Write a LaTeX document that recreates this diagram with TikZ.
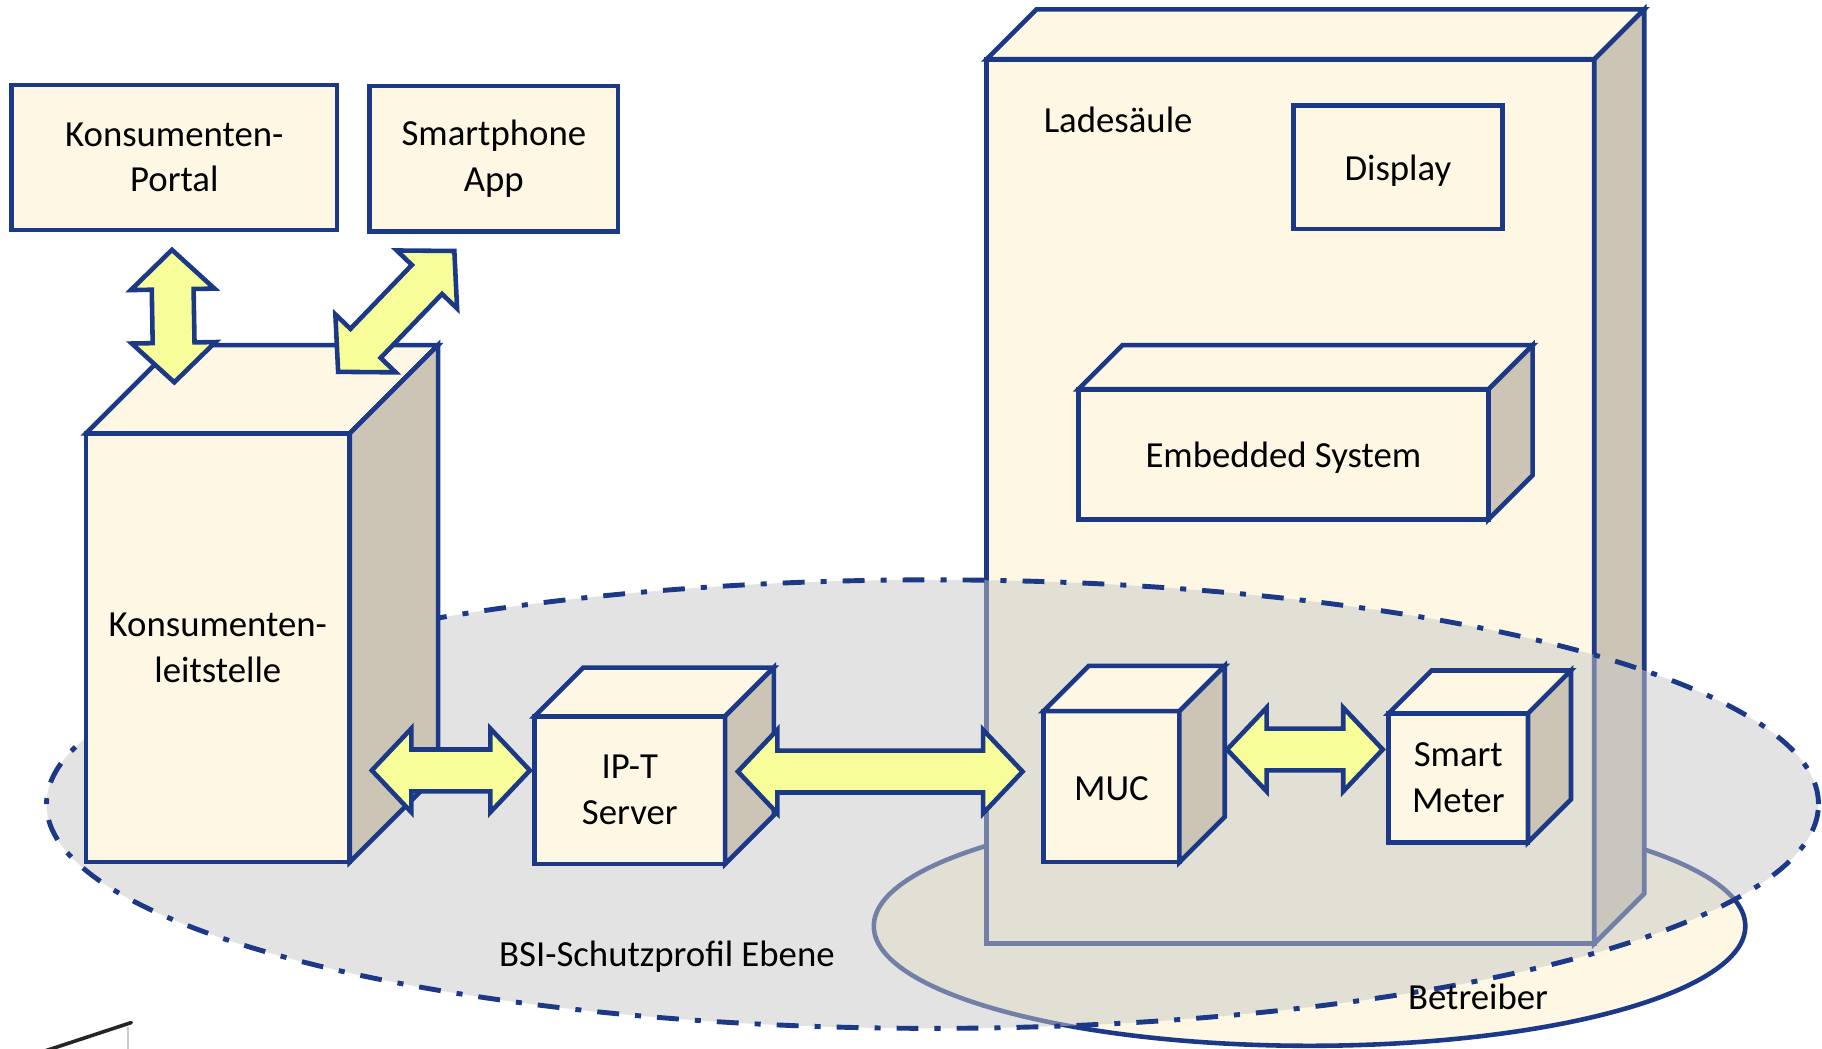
\documentclass[tikz,border=0pt]{standalone}
\usepackage{fontspec}
\setmainfont{Carlito}
\usetikzlibrary{calc,shapes.geometric}
\definecolor{bblue}{RGB}{28,57,135}
\definecolor{cream}{RGB}{253,247,227}
\definecolor{sidec}{RGB}{204,197,181}
\definecolor{ayel}{RGB}{246,253,153}
\definecolor{bsigray}{RGB}{200,200,200}
\newcommand\myu{0.025cm}
\tikzset{
 face/.style={draw=bblue, fill=cream, line width=2.8pt, line join=miter},
 box/.style={face, outer sep=0pt, inner sep=0pt, align=center, font=\fontsize{22.5}{28}\selectfont},
 sideface/.style={draw=bblue, fill=sidec, line width=2.8pt, line join=miter},
 blockarrow/.style={draw=bblue, fill=ayel, line width=2.8pt, line join=miter},
 lbl/.style={font=\fontsize{22.5}{28}\selectfont, inner sep=0pt},
 region/.style={ellipse, draw=bblue, line width=2.8pt, inner sep=0pt, outer sep=0pt}
}
\newcommand\cuboid[8][]{%
 \node[box, #1, minimum width=#5*\myu, minimum height=#6*\myu] (#2) at (#3,#4) {#8};
 \draw[face] (#2.north west) -- ++(#7,-#7) -- ++(#5,0) -- (#2.north east) -- cycle;
 \draw[sideface] (#2.north east) -- ++(#7,-#7) -- ++(0,#6) -- (#2.south east) -- cycle;
}
\newcommand\dblarrow[2]{%
 \coordinate (p1) at ($(#1)!0.85cm!(#2)$);
 \coordinate (p2) at ($(#2)!0.85cm!(#1)$);
 \draw[blockarrow] (#1) -- ($(p1)!0.9cm!90:(#2)$) -- ($(p1)!0.45cm!90:(#2)$)
   -- ($(p2)!0.45cm!90:(#2)$) -- ($(p2)!0.9cm!90:(#2)$) -- (#2)
   -- ($(p2)!0.9cm!-90:(#2)$) -- ($(p2)!0.45cm!-90:(#2)$)
   -- ($(p1)!0.45cm!-90:(#2)$) -- ($(p1)!0.9cm!-90:(#2)$) -- cycle;
}
\begin{document}
\begin{tikzpicture}[x=0.025cm, y=-0.025cm]
\useasboundingbox (0,0) rectangle (1568,902);
% Betreiber region
\node[region, fill=cream, minimum width=750*\myu, minimum height=206*\myu] (betr) at (1127,797) {};
% Ladesaeule
\cuboid{lade}{1110.5}{431.5}{523}{761}{43}{}
\node[lbl, anchor=base west] (ladel) at (898,114) {Ladesäule};
\node[box, minimum width=180*\myu, minimum height=106*\myu, text depth=0pt] (disp) at (1203,144) {Display};
\cuboid[text depth=0pt]{emb}{1104.5}{391}{353}{112}{38}{Embedded System}
% BSI region
\node[region, fill=bsigray, fill opacity=0.5, line width=3pt,
  dash pattern=on 13.4pt off 9.8pt on 3.7pt off 9.8pt,
  minimum width=1525*\myu, minimum height=386*\myu] (bsi) at (802.5,692) {};
% top boxes
\node[box, minimum width=280*\myu, minimum height=125*\myu] (portal) at (150,135.5) {Konsumenten-\\Portal};
\node[box, minimum width=214*\myu, minimum height=125*\myu] (app) at (425,136.5) {Smartphone\\App};
% cuboids
\cuboid{kl}{187.5}{557.5}{227}{369}{76}{Konsumenten-\\leitstelle}
\cuboid{ipt}{542}{680}{164}{127}{42}{IP-T\\Server}
\cuboid[text height=17.5pt, text depth=0pt]{muc}{956.5}{677}{117}{130}{39}{MUC}
\cuboid{sm}{1255}{669.5}{120}{111}{37}{Smart\\Meter}
% arrows
\coordinate (a1s) at (148,215); \coordinate (a1e) at (150,329);
\dblarrow{a1s}{a1e}
\coordinate (a2s) at (291,320); \coordinate (a2e) at (391,216);
\dblarrow{a2s}{a2e}
\coordinate (a3s) at (320,663); \coordinate (a3e) at (456,663);
\dblarrow{a3s}{a3e}
\coordinate (a4s) at (635,664); \coordinate (a4e) at (880,664);
\dblarrow{a4s}{a4e}
\coordinate (a5s) at (1056,645); \coordinate (a5e) at (1190,645);
\dblarrow{a5s}{a5e}
% labels
\node[lbl] (bsil) at (574,823) {BSI-Schutzprofil Ebene};
\node[lbl] (betrl) at (1272,858) {Betreiber};
% cropped fragment bottom left
\draw[black!85, line width=2.2pt, line cap=round] (37,905) -- (113,880);
\draw[black!20, line width=1.6pt] (110,884) -- (110,904);
\end{tikzpicture}
\end{document}
